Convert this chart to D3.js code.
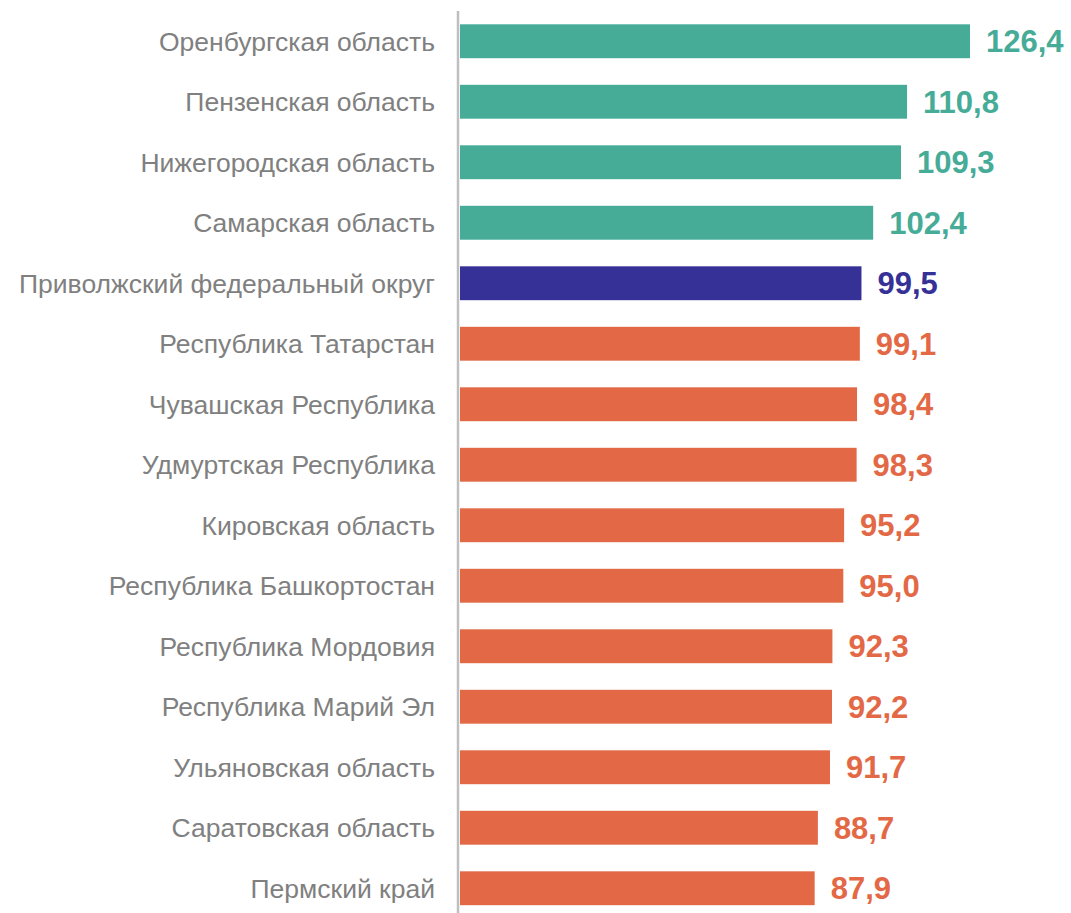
<!DOCTYPE html>
<html>
<head>
<meta charset="utf-8">
<script src="https://cdn.jsdelivr.net/npm/d3@7"></script>
<style>
  body { margin: 0; background: #fff; }
  text { font-family: "Liberation Sans", Arial, sans-serif; }
</style>
</head>
<body>
<div id="chart"></div>
<script>
// data
var regions = [
  'Оренбургская область',
  'Пензенская область',
  'Нижегородская область',
  'Самарская область',
  'Приволжский федеральный округ',
  'Республика Татарстан',
  'Чувашская Республика',
  'Удмуртская Республика',
  'Кировская область',
  'Республика Башкортостан',
  'Республика Мордовия',
  'Республика Марий Эл',
  'Ульяновская область',
  'Саратовская область',
  'Пермский край'
]
var values = [126.4, 110.8, 109.3, 102.4, 99.5, 99.1, 98.4, 98.3, 95.2, 95.0, 92.3, 92.2, 91.7, 88.7, 87.9]
var groups = ['up', 'up', 'up', 'up', 'total', 'down', 'down', 'down', 'down', 'down', 'down', 'down', 'down', 'down', 'down']

var colors = { up: '#46ac98', total: '#363197', down: '#e36946' }

var width = 1071
var height = 913
var margin = { top: 11, left: 460, right: 101, bottom: 0 }

var svg = d3.select('#chart')
  .append('svg')
  .attr('width', width)
  .attr('height', height)

var data = regions.map(function(r, i) {
  return { name: r, value: values[i], group: groups[i] }
})

var xPositionScale = d3.scaleLinear()
  .domain([0, 126.4])
  .range([margin.left, width - margin.right])

var yPositionScale = d3.scaleBand()
  .domain(regions)
  .range([margin.top, margin.top + 60.5 * regions.length])
  .paddingInner(0.44)
  .paddingOuter(0.22)

// bars
svg.selectAll('.bar')
  .data(data)
  .enter()
  .append('rect')
  .attr('class', 'bar')
  .attr('x', xPositionScale(0))
  .attr('y', d => yPositionScale(d.name))
  .attr('width', d => xPositionScale(d.value) - xPositionScale(0))
  .attr('height', yPositionScale.bandwidth())
  .attr('fill', d => colors[d.group])

// value labels
svg.selectAll('.value')
  .data(data)
  .enter()
  .append('text')
  .attr('class', 'value')
  .text(d => d3.format('.1f')(d.value).replace('.', ','))
  .attr('x', d => xPositionScale(d.value) + 16)
  .attr('y', d => yPositionScale(d.name) + yPositionScale.bandwidth() / 2)
  .attr('dy', '0.36em')
  .attr('font-size', 31)
  .attr('font-weight', 'bold')
  .attr('fill', d => colors[d.group])

// category axis
var yAxis = d3.axisLeft(yPositionScale).tickSize(0).tickPadding(23)
var axisG = svg.append('g')
  .attr('class', 'axis y-axis')
  .attr('transform', 'translate(' + (margin.left - 2) + ',0)')
  .call(yAxis)

axisG.select('.domain').remove()
axisG.selectAll('text')
  .attr('font-size', 26.5)
  .attr('dy', '0.35em')
  .attr('fill', '#808080')
  .style('font-family', '"Liberation Sans", Arial, sans-serif')

axisG.append('line')
  .attr('x1', 0)
  .attr('x2', 0)
  .attr('y1', margin.top)
  .attr('y2', height)
  .attr('stroke', '#bfbfbf')
  .attr('stroke-width', 2.5)
</script>
</body>
</html>
